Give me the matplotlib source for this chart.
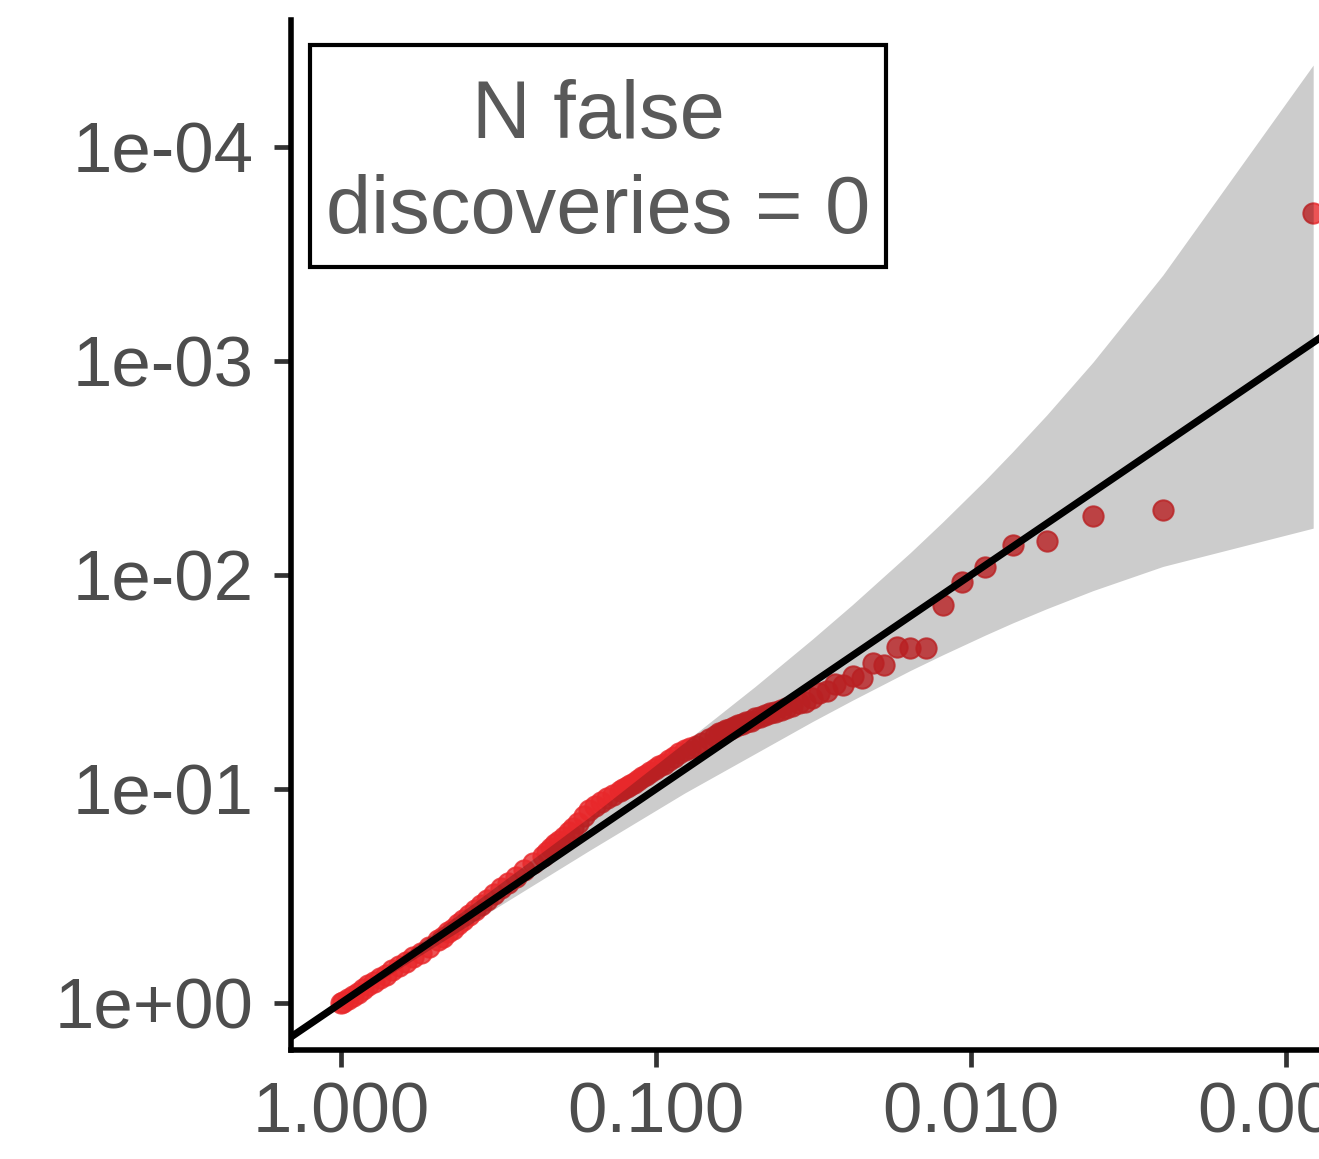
import numpy as np
import matplotlib
matplotlib.use("Agg")
import matplotlib.pyplot as plt
from matplotlib.patches import Rectangle

# ---- data -------------------------------------------------------------
n_tests = 610

# rank of each plotted p-value (1 = smallest) and its observed -log10(p)
rank = [1, 2, 3, 4, 5, 6, 7, 8, 9, 10,
        11, 12, 13, 14, 15, 16, 17, 18, 19, 20,
        21, 22, 23, 24, 25, 26, 27, 28, 29, 30,
        31, 32, 33, 34, 35, 36, 37, 38, 39, 40,
        42, 44, 46, 48, 50, 52, 54, 56, 58, 60,
        62, 64, 66, 68, 70, 72, 74, 76, 78, 80,
        84, 88, 92, 96, 100, 104, 108, 112, 116, 120,
        124, 128, 132, 136, 140, 150, 160, 170, 180, 190,
        200, 210, 220, 230, 240, 250, 260, 270, 280, 290,
        300, 320, 340, 360, 380, 400, 420, 440, 460, 480,
        500, 520, 540, 560, 580, 600, 610]

obs_neglog10 = [3.692, 2.304, 2.276, 2.159, 2.140, 2.037, 1.967, 1.860, 1.659, 1.659,
                1.664, 1.579, 1.589, 1.519, 1.528, 1.486, 1.491, 1.458, 1.449, 1.425,
                1.407, 1.402, 1.388, 1.379, 1.369, 1.360, 1.355, 1.346, 1.336, 1.332,
                1.320, 1.315, 1.306, 1.298, 1.290, 1.282, 1.274, 1.267, 1.261, 1.249,
                1.233, 1.217, 1.202, 1.193, 1.180, 1.167, 1.150, 1.135, 1.119, 1.109,
                1.095, 1.081, 1.067, 1.054, 1.042, 1.029, 1.017, 1.010, 0.999, 0.993,
                0.971, 0.960, 0.941, 0.922, 0.900, 0.873, 0.843, 0.818, 0.798, 0.778,
                0.759, 0.741, 0.723, 0.705, 0.688, 0.653, 0.620, 0.589, 0.559, 0.536,
                0.509, 0.483, 0.458, 0.434, 0.411, 0.388, 0.367, 0.346, 0.330, 0.310,
                0.295, 0.262, 0.236, 0.216, 0.192, 0.175, 0.153, 0.133, 0.118, 0.100,
                0.082, 0.065, 0.049, 0.033, 0.018, 0.003, 0.0001]

# 95% envelope of the uniform order statistics, as -log10(p)
band_rank = [1, 2, 3, 4, 5, 6, 8, 10, 15, 20, 30, 50, 100, 200, 300, 400, 500, 610]
band_hi_neglog10 = [4.383, 3.402, 2.995, 2.749, 2.576, 2.443, 2.248, 2.105, 1.862,
                     1.699, 1.480, 1.218, 0.868, 0.537, 0.345, 0.210, 0.104, 0.0026]
band_lo_neglog10 = [2.219, 2.040, 1.927, 1.843, 1.776, 1.719, 1.627, 1.554, 1.415,
                     1.314, 1.166, 0.981, 0.712, 0.438, 0.275, 0.160, 0.071, 0.00002]

x_ticks = [1.0, 0.1, 0.01, 0.001]
x_tick_labels = ["1.000", "0.100", "0.010", "0.001"]
y_ticks = [1.0, 1e-1, 1e-2, 1e-3, 1e-4]
y_tick_labels = ["1e+00", "1e-01", "1e-02", "1e-03", "1e-04"]
annotation_lines = ["N false", "discoveries = 0"]

# ---- derived quantities -----------------------------------------------
expected = (np.array(rank) - 0.5) / n_tests
observed = 10.0 ** (-np.array(obs_neglog10))
band_x = (np.array(band_rank) - 0.5) / n_tests
band_hi = 10.0 ** (-np.array(band_hi_neglog10))
band_lo = 10.0 ** (-np.array(band_lo_neglog10))

# ---- figure -----------------------------------------------------------
W, H = 1319, 1159
fig = plt.figure(figsize=(W / 100, H / 100), dpi=100)
plt.rcParams["font.family"] = ["Liberation Sans", "DejaVu Sans"]

ax = fig.add_axes([291 / W, 1 - 1050 / H, 1 - 291 / W, (1050 - 20) / H])
ax.set_xscale("log")
ax.set_yscale("log")
ax.set_xlim(1.441, 7.855e-4)
ax.set_ylim(1.658, 2.55e-5)

point_red = "#E8282B"
ax.scatter(expected, observed, s=215, color=point_red, edgecolors=point_red,
           linewidths=1.4, alpha=0.8, zorder=2)
ax.fill_between(band_x, band_lo, band_hi, color="black", alpha=0.2,
                linewidth=0, zorder=3)
ax.axline((1.0, 1.0), (1e-3, 1e-3), color="black", lw=5.2, zorder=4)

# axes styling
for side in ("top", "right"):
    ax.spines[side].set_visible(False)
for side in ("left", "bottom"):
    ax.spines[side].set_linewidth(4.0)
    ax.spines[side].set_color("black")

ax.set_xticks(x_ticks)
ax.set_xticklabels(x_tick_labels)
ax.set_yticks(y_ticks)
ax.set_yticklabels(y_tick_labels)
ax.minorticks_off()
ax.tick_params(axis="both", which="major", direction="out", length=12,
               width=3.4, color="#333333", labelcolor="#4D4D4D",
               labelsize=51)
ax.tick_params(axis="y", pad=15)
ax.tick_params(axis="x", pad=11)

# annotation box
fig.patches.append(Rectangle((310 / W, 1 - 267 / H), (886 - 310) / W,
                             (267 - 45) / H, transform=fig.transFigure,
                             facecolor="white", edgecolor="black",
                             linewidth=3.0, zorder=10))
fig.text(598 / W, 1 - 138 / H, annotation_lines[0], ha="center", va="baseline",
         fontsize=58.5, color="#595959", zorder=11)
fig.text(598 / W, 1 - 233 / H, annotation_lines[1], ha="center", va="baseline",
         fontsize=58.5, color="#595959", zorder=11)

fig.savefig("out.png", dpi=100, facecolor="white")
